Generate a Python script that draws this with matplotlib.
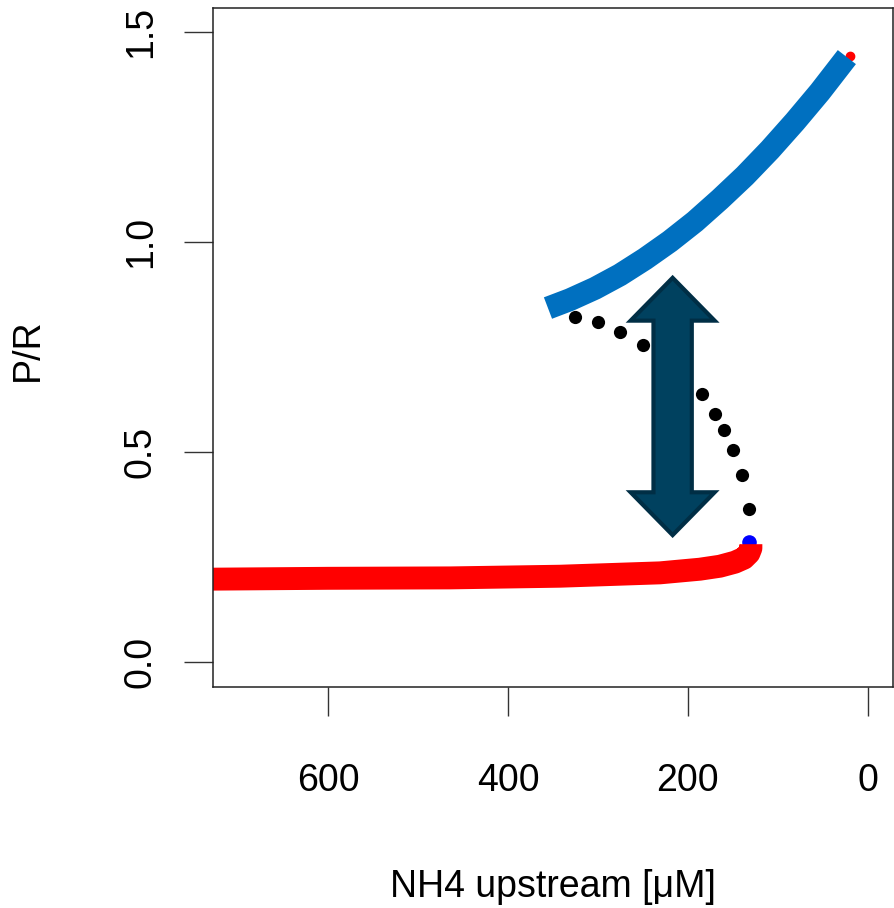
import matplotlib
matplotlib.use("Agg")
import matplotlib.pyplot as plt
from matplotlib.patches import Polygon

plt.rcParams['font.family'] = ['Liberation Sans', 'DejaVu Sans']

# ---- data ----
upper_x = [355.6, 331.1, 303.3, 275.6, 247.8, 220.0, 192.2, 164.4, 136.7, 108.9, 81.1, 53.3, 23.3]
upper_y = [0.843, 0.863, 0.890, 0.922, 0.960, 1.002, 1.049, 1.102, 1.158, 1.220, 1.287, 1.358, 1.441]

lower_x = [760, 728, 600, 464, 342, 231, 186.7, 164.4, 147.8, 137.8, 132.2, 130.0, 130.0]
lower_y = [0.196, 0.197, 0.199, 0.200, 0.204, 0.212, 0.2207, 0.2278, 0.2374, 0.2469, 0.2588, 0.2707, 0.2803]

unstable_x = [325.6, 300.0, 275.6, 250.0, 184.4, 170.0, 160.0, 150.0, 140.0, 132.2]
unstable_y = [0.821, 0.810, 0.786, 0.755, 0.638, 0.590, 0.552, 0.504, 0.445, 0.364]

fold_x, fold_y = [132.0], [0.286]
left_end_x, left_end_y = [735.0], [0.197]
top_end_x, top_end_y = [20.0], [1.444]

xticks = [600, 400, 200, 0]
yticks = [0.0, 0.5, 1.0, 1.5]
ytick_labels = ["0.0", "0.5", "1.0", "1.5"]

# double arrow (annotation)
arrow_cx = 217.0
arrow_y0, arrow_y1 = 0.302, 0.915
arrow_head_hw = 46.7
arrow_shaft_hw = 21.3
arrow_head_len = 0.102

BLUE = '#0070C0'
RED = '#FF0000'

fig = plt.figure(figsize=(8.94, 9.08), dpi=100)
ax = fig.add_axes([213/894, 1 - 687/908, 680/894, 679/908])

ax.set_xlim(728, -28)
ax.set_ylim(-0.06, 1.558)

lw = 16.5
ax.plot(top_end_x, top_end_y, 'o', color=RED, ms=6, zorder=1)
ax.plot(upper_x, upper_y, color=BLUE, lw=lw, solid_capstyle='butt', solid_joinstyle='round', zorder=2)
ax.plot(fold_x, fold_y, 'o', color='#0000FF', ms=9.5, zorder=1)
ax.plot(left_end_x, left_end_y, 'o', color='#0000FF', ms=9.5, zorder=1)
ax.plot(lower_x, lower_y, color=RED, lw=lw, solid_capstyle='butt', solid_joinstyle='round', zorder=2)
ax.plot(unstable_x, unstable_y, 'o', color='black', ms=9.5, mew=0, zorder=3)

verts = [
    (arrow_cx, arrow_y1),
    (arrow_cx - arrow_head_hw, arrow_y1 - arrow_head_len),
    (arrow_cx - arrow_shaft_hw, arrow_y1 - arrow_head_len),
    (arrow_cx - arrow_shaft_hw, arrow_y0 + arrow_head_len),
    (arrow_cx - arrow_head_hw, arrow_y0 + arrow_head_len),
    (arrow_cx, arrow_y0),
    (arrow_cx + arrow_head_hw, arrow_y0 + arrow_head_len),
    (arrow_cx + arrow_shaft_hw, arrow_y0 + arrow_head_len),
    (arrow_cx + arrow_shaft_hw, arrow_y1 - arrow_head_len),
    (arrow_cx + arrow_head_hw, arrow_y1 - arrow_head_len),
]
ax.add_patch(Polygon(verts, closed=True, facecolor='#00415F', edgecolor='#002E45',
                     lw=3, joinstyle='miter', zorder=5))

ax.set_xticks(xticks)
ax.set_xticklabels([str(v) for v in xticks])
ax.set_yticks(yticks)
ax.set_yticklabels(ytick_labels, rotation=90, va='center')

ax.tick_params(axis='both', direction='out', length=21, width=1, color='#333333',
               labelsize=27, labelcolor='black')
ax.tick_params(axis='x', pad=34)
ax.tick_params(axis='y', pad=18)

for s in ax.spines.values():
    s.set_color('#222222')
    s.set_linewidth(1.1)

ax.set_xlabel("NH4 upstream [μM]", fontsize=27)
ax.set_ylabel("P/R", fontsize=27)
ax.xaxis.label.set_va('center')
ax.yaxis.label.set_va('center')
ax.xaxis.set_label_coords(0.5, (687 - 887) / 679)
ax.yaxis.set_label_coords((28 - 213) / 680, (687 - 350) / 679)

fig.savefig("out.png", dpi=100)
